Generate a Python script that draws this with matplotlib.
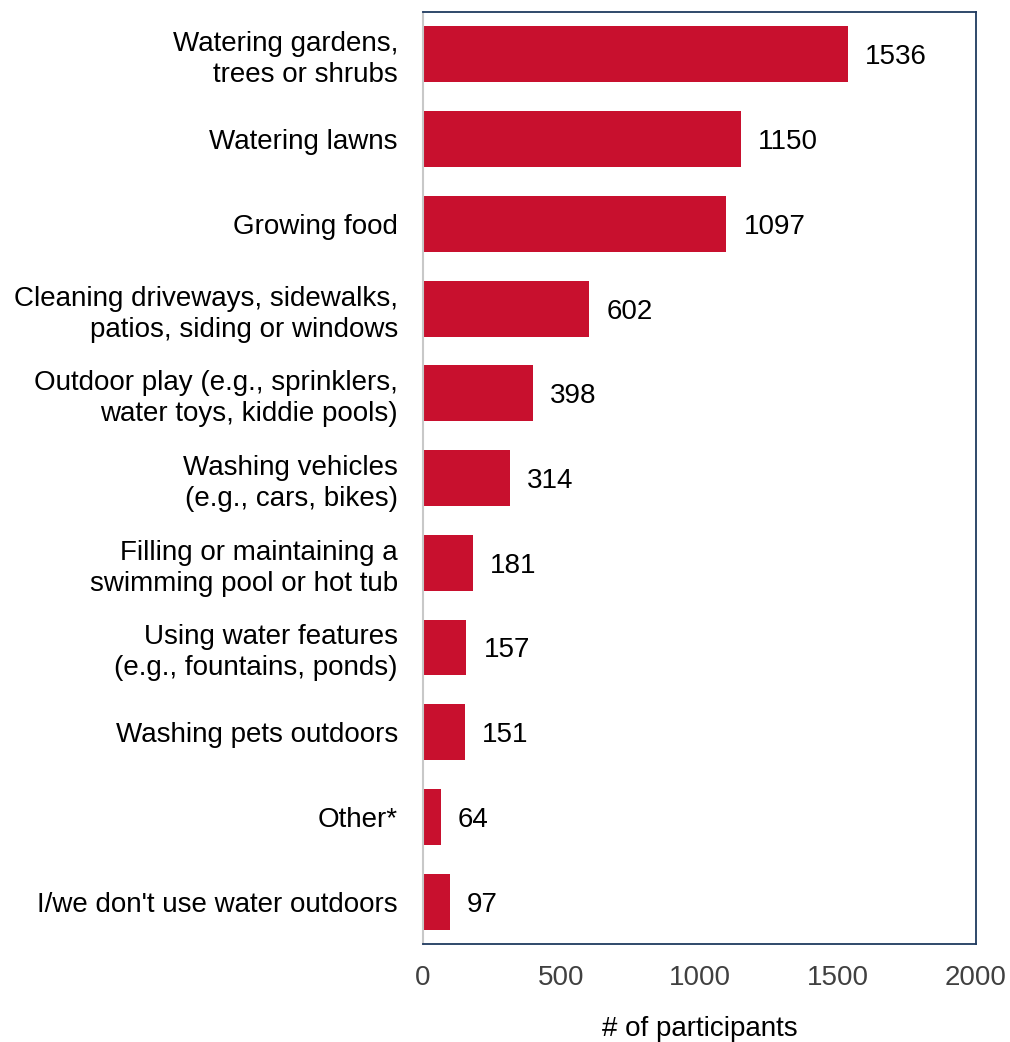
import numpy as np
import matplotlib.pyplot as plt

plt.rcParams['font.family'] = ['Liberation Sans', 'DejaVu Sans']

categories = [
    "Watering gardens,\ntrees or shrubs",
    "Watering lawns",
    "Growing food",
    "Cleaning driveways, sidewalks,\npatios, siding or windows",
    "Outdoor play (e.g., sprinklers,\nwater toys, kiddie pools)",
    "Washing vehicles\n(e.g., cars, bikes)",
    "Filling or maintaining a\nswimming pool or hot tub",
    "Using water features\n(e.g., fountains, ponds)",
    "Washing pets outdoors",
    "Other*",
    "I/we don't use water outdoors",
]
values = [1536, 1150, 1097, 602, 398, 314, 181, 157, 151, 64, 97]
xticks = [0, 500, 1000, 1500, 2000]

fig = plt.figure(figsize=(10.1, 10.42), dpi=100)
ax = fig.add_axes([0.4188, 0.094, 0.5475, 0.8945])

y = np.arange(len(categories))
ax.barh(y, values, height=0.66, color='#C8102E')
for yi, v in zip(y, values):
    ax.text(v + 62, yi, str(v), va='center_baseline', ha='left', fontsize=20, color='black')

ax.set_ylim(len(categories) - 0.5, -0.5)
ax.set_xlim(0, 2000)
ax.set_yticks(y)
ax.set_yticklabels(categories, fontsize=20, color='black', linespacing=1.25)
ax.set_xticks(xticks)
ax.set_xticklabels([str(t) for t in xticks], fontsize=20, color='#404040')
ax.tick_params(axis='both', length=0)
ax.tick_params(axis='y', pad=18)
ax.tick_params(axis='x', pad=15)
ax.set_xlabel("# of participants", fontsize=20, color='black', labelpad=18)

for s in ['top', 'right', 'bottom']:
    ax.spines[s].set_color('#1F3A5F')
    ax.spines[s].set_linewidth(1.3)
ax.spines['left'].set_color('#C8C8C8')
ax.spines['left'].set_linewidth(1.5)

fig.savefig('out.png', dpi=100)
